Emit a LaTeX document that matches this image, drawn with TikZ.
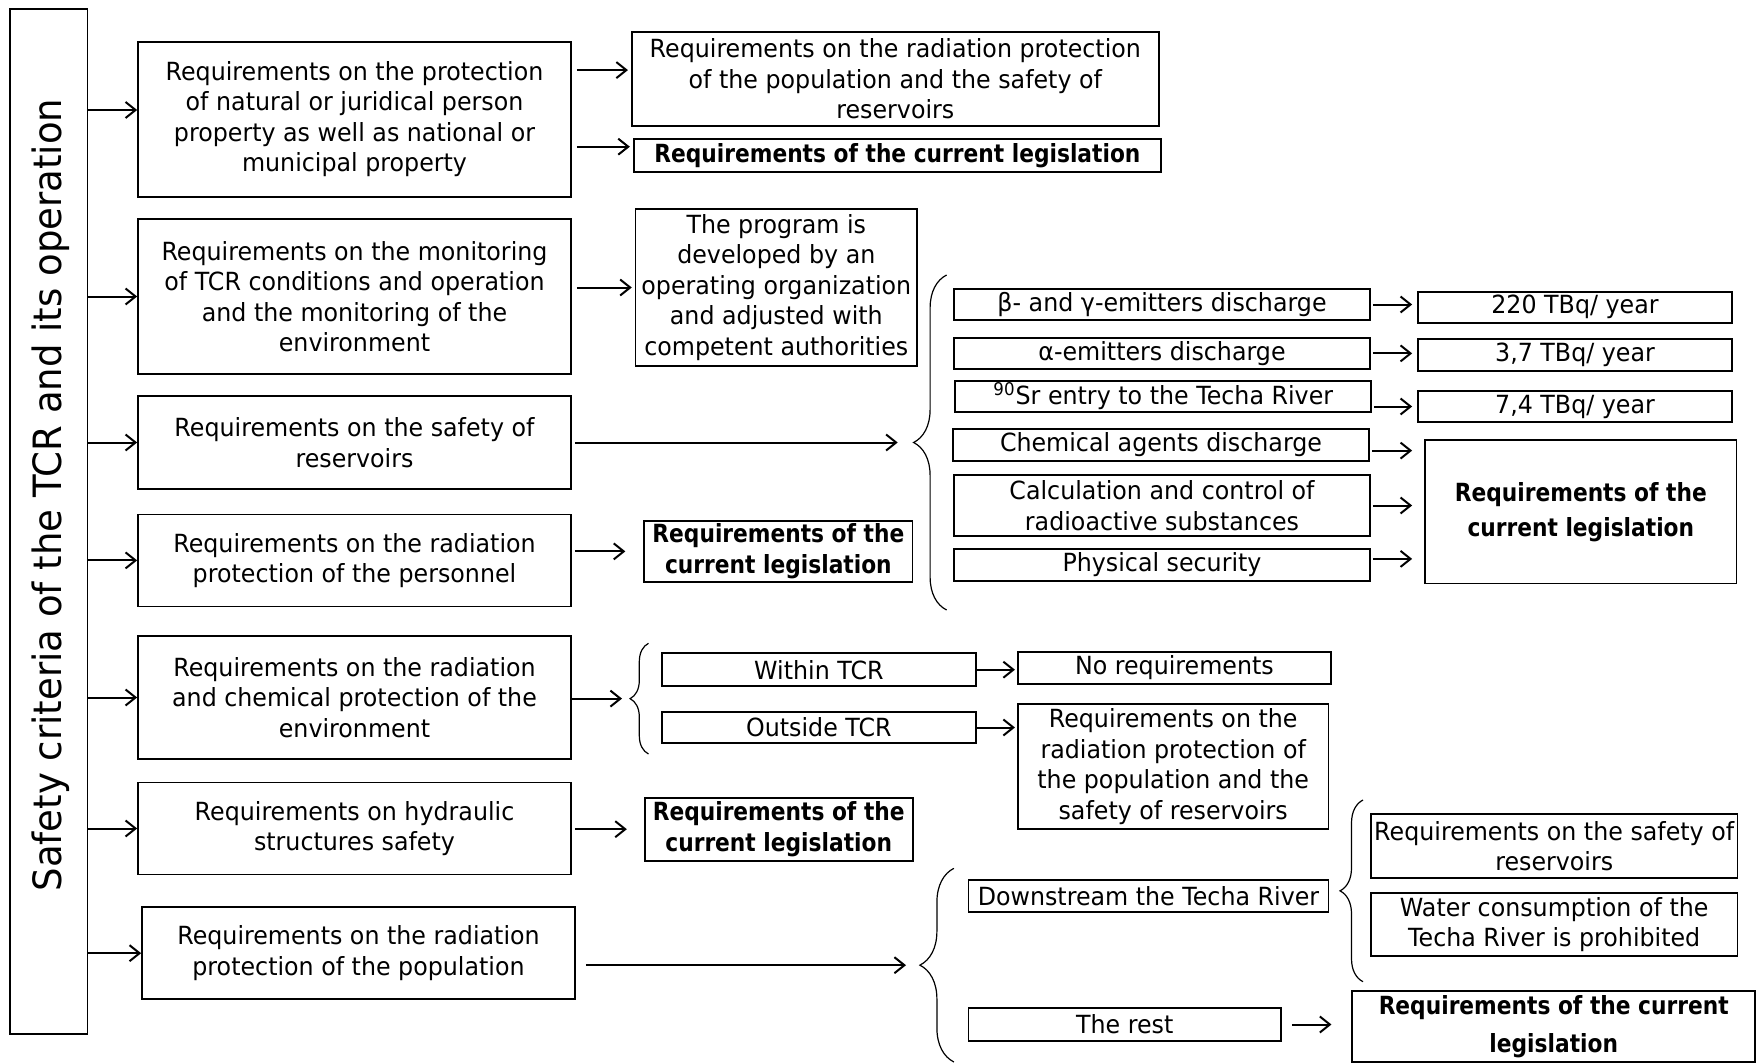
\documentclass[tikz,border=0pt]{standalone}
\usepackage{fontspec}
\setmainfont{DejaVu Sans}[FakeStretch=0.95]
\newfontfamily\legfont{DejaVu Sans}[FakeStretch=0.87]
\usetikzlibrary{arrows.meta,decorations.pathreplacing}

\begin{document}
\begin{tikzpicture}[x=0.5pt,y=-0.5pt,
	box/.style={draw, line width=0.85pt, align=center, inner sep=0pt, font=\fontsize{12.5}{15.25}\selectfont},
	legbox/.style={box, font=\legfont\bfseries\fontsize{12.5}{15.5}\selectfont},
	arr/.style={-{Straight Barb[length=5pt,width=8pt]}, line width=1pt},
	curly/.style={decorate, decoration={brace, amplitude=#1}, line width=0.6pt}]
	\useasboundingbox (0,0) rectangle (1760,1064);

	\node[box, minimum width=38.8pt, minimum height=512.4pt] (crit) at (48.8,521.7) {};
	\node[rotate=90, font=\fontsize{19.5}{23}\selectfont] (critText) at (51,495) {Safety criteria of the TCR and its operation};

	\node[box, minimum width=216.5pt, minimum height=77.5pt] (reqProp) at (354.5,119.2) {Requirements on the protection\\of natural or juridical person\\property as well as national or\\municipal property};
	\node[box, minimum width=216.5pt, minimum height=77.5pt] (reqMon) at (354.5,296.5) {Requirements on the monitoring\\of TCR conditions and operation\\and the monitoring of the\\environment};
	\node[box, minimum width=216.5pt, minimum height=46.5pt] (reqRes) at (354.5,442.5) {Requirements on the safety of\\reservoirs};
	\node[box, minimum width=216.5pt, minimum height=46pt] (reqPers) at (354.5,560.4) {Requirements on the radiation\\protection of the personnel};
	\node[box, minimum width=216.5pt, minimum height=61.2pt] (reqEnv) at (354.5,697.5) {Requirements on the radiation\\and chemical protection of the\\environment};
	\node[box, minimum width=216.5pt, minimum height=46pt] (reqHydr) at (354.5,828.5) {Requirements on hydraulic\\structures safety};
	\node[box, minimum width=216.5pt, minimum height=46pt] (reqPop) at (358.5,953.2) {Requirements on the radiation\\protection of the population};

	\node[box, minimum width=263.5pt, minimum height=47pt] (popRes) at (895.3,78.7) {Requirements on the radiation protection\\of the population and the safety of\\reservoirs};
	\node[legbox, minimum width=263.7pt, minimum height=16.2pt] (legA) at (897.4,155.5) {Requirements of the current legislation};
	\node[box, minimum width=140.7pt, minimum height=78.2pt] (prog) at (776.3,287.5) {The program is\\developed by an\\operating organization\\and adjusted with\\competent authorities};
	\node[legbox, minimum width=134.2pt, minimum height=30.7pt] (legB) at (778.4,551.4) {Requirements of the\\current legislation};
	\node[legbox, minimum width=134pt, minimum height=31.5pt] (legC) at (778.7,829.2) {Requirements of the\\current legislation};

	\node[box, minimum width=208pt, minimum height=15.5pt] (betaDis) at (1162,304.5) {β- and γ-emitters discharge};
	\node[box, minimum width=208pt, minimum height=15.7pt] (alphaDis) at (1162,353.4) {α-emitters discharge};
	\node[box, minimum width=208pt, minimum height=15.5pt] (srEntry) at (1163.3,396.2) {\textsuperscript{90}Sr entry to the Techa River};
	\node[box, minimum width=208pt, minimum height=15.7pt] (chemDis) at (1161,445) {Chemical agents discharge};
	\node[box, minimum width=208pt, minimum height=30.5pt] (calcCtl) at (1162,505.5) {Calculation and control of\\radioactive substances};
	\node[box, minimum width=208pt, minimum height=15.9pt] (physSec) at (1162,564.9) {Physical security};

	\node[box, minimum width=157pt, minimum height=15.5pt] (betaLim) at (1575,307.2) {220 TBq/ year};
	\node[box, minimum width=157pt, minimum height=15.7pt] (alphaLim) at (1575,355) {3,7 TBq/ year};
	\node[box, minimum width=157pt, minimum height=15.8pt] (srLim) at (1575,406.5) {7,4 TBq/ year};
	\node[legbox, font=\legfont\bfseries\fontsize{12.5}{17.5}\selectfont, minimum width=155.8pt, minimum height=71.7pt] (legD) at (1580.8,511.7) {Requirements of the\\current legislation};

	\node[box, minimum width=156.9pt, minimum height=16.4pt] (within) at (818.9,669.7) {Within TCR};
	\node[box, minimum width=156.9pt, minimum height=15.8pt] (outside) at (818.9,727.5) {Outside TCR};
	\node[box, minimum width=156.6pt, minimum height=16.2pt] (noReq) at (1174.4,667.9) {No requirements};
	\node[box, minimum width=155.4pt, minimum height=62.5pt] (outReq) at (1173.2,766.5) {Requirements on the\\radiation protection of\\the population and the\\safety of reservoirs};

	\node[box, minimum width=180.1pt, minimum height=15.9pt] (downstr) at (1148.5,895.9) {Downstream the Techa River};
	\node[box, minimum width=156.3pt, minimum height=16.2pt] (rest) at (1124.7,1024.5) {The rest};
	\node[box, minimum width=183.2pt, minimum height=31.7pt] (resSafe) at (1554.2,846) {Requirements on the safety of\\reservoirs};
	\node[box, minimum width=183.2pt, minimum height=31.4pt] (waterBan) at (1554.2,924.7) {Water consumption of the\\Techa River is prohibited};
	\node[legbox, font=\legfont\bfseries\fontsize{12.5}{19}\selectfont, minimum width=201.4pt, minimum height=35.7pt] (legE) at (1553.7,1026.4) {Requirements of the current\\legislation};

	\coordinate (brUbot) at (946.6,610); \coordinate (brUtop) at (946.6,275); \coordinate (brU) at (913.7,442.5);
	\coordinate (brEbot) at (648.5,754); \coordinate (brEtop) at (648.5,643.3); \coordinate (brE) at (630,698.6);
	\coordinate (brLbot) at (953.9,1062); \coordinate (brLtop) at (953.9,868.3); \coordinate (brL) at (920,965.2);
	\coordinate (brDbot) at (1363,981.7); \coordinate (brDtop) at (1363,800); \coordinate (brD) at (1340,890.9);

	\coordinate (propIn) at ([yshift=4.6pt]reqProp.west);
	\coordinate (popResIn) at ([yshift=4.3pt]popRes.west);
	\coordinate (legAIn) at ([yshift=4.4pt]legA.west);
	\coordinate (chemOut) at ([yshift=-2.8pt]chemDis.east);
	\coordinate (physOut) at ([yshift=3pt]physSec.east);

	\draw[curly=16.5pt] (brUbot) -- (brUtop);
	\draw[curly=9.2pt] (brEbot) -- (brEtop);
	\draw[curly=17pt] (brLbot) -- (brLtop);
	\draw[curly=11.5pt] (brDbot) -- (brDtop);

	\draw[arr] (crit.east |- propIn) -- (propIn);
	\foreach \n in {reqMon,reqRes,reqPers,reqEnv,reqHydr,reqPop}
		\draw[arr] (crit.east |- \n.west) -- (\n.west);

	\draw[arr, shorten <=2.5pt, shorten >=1.5pt] (reqProp.east |- popResIn) -- (popResIn);
	\draw[arr, shorten <=2.5pt, shorten >=1.5pt] (reqProp.east |- legAIn) -- (legAIn);
	\draw[arr, shorten <=2.5pt, shorten >=1.5pt] (reqMon.east |- prog.west) -- (prog.west);
	\draw[arr, shorten <=1.5pt, shorten >=8pt] (reqRes.east |- brU) -- (brU);
	\draw[arr, shorten <=1.5pt, shorten >=9pt] (reqPers.east |- legB.west) -- (legB.west);
	\draw[arr, shorten >=4pt] (reqEnv.east |- brE) -- (brE);
	\draw[arr, shorten <=1.5pt, shorten >=8.5pt] (reqHydr.east |- legC.west) -- (legC.west);
	\draw[arr, shorten <=5pt, shorten >=7pt] (reqPop.east |- brL) -- (brL);

	\foreach \a/\b in {betaDis/betaLim,alphaDis/alphaLim}
		\draw[arr, shorten <=1pt, shorten >=2.5pt] (\a.east) -- (\a.east -| \b.west);
	\draw[arr, shorten <=1pt, shorten >=2.5pt] (srEntry.east |- srLim.west) -- (srLim.west);
	\draw[arr, shorten <=1pt, shorten >=6pt] (chemOut) -- (chemOut -| legD.west);
	\draw[arr, shorten <=1pt, shorten >=6pt] (calcCtl.east) -- (calcCtl.east -| legD.west);
	\draw[arr, shorten <=1pt, shorten >=6pt] (physOut) -- (physOut -| legD.west);

	\draw[arr, shorten >=1pt] (within.east) -- (within.east -| noReq.west);
	\draw[arr, shorten >=1pt] (outside.east) -- (outside.east -| outReq.west);
	\draw[arr, shorten <=5pt, shorten >=10pt] (rest.east) -- (rest.east -| legE.west);
\end{tikzpicture}
\end{document}
